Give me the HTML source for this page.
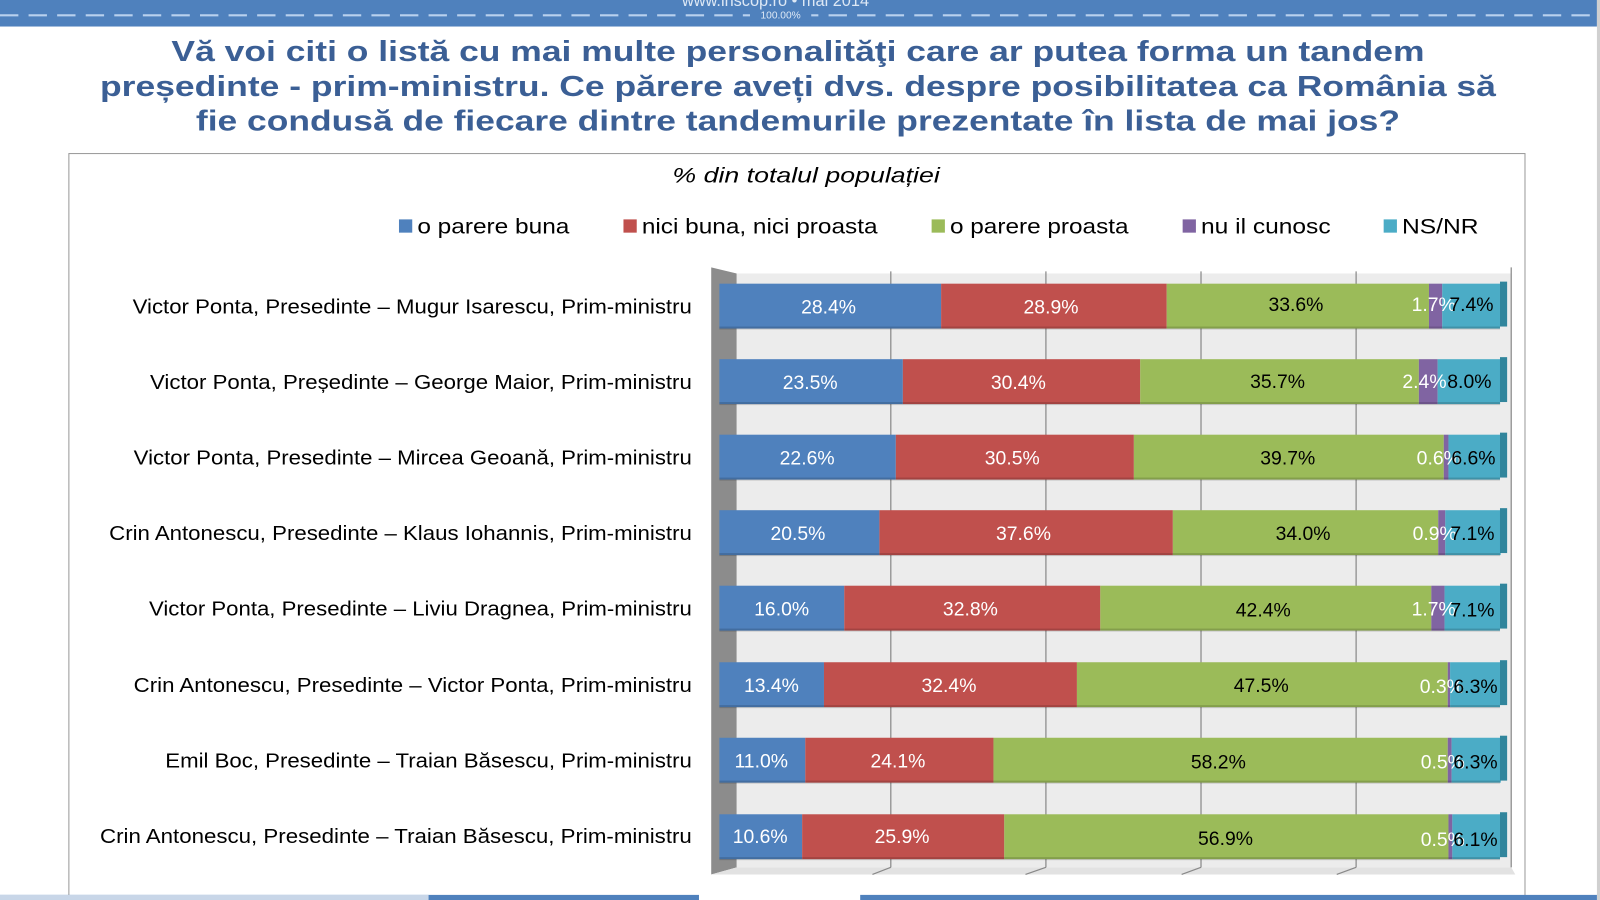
<!DOCTYPE html>
<html><head><meta charset="utf-8"><style>
html,body{margin:0;padding:0;background:#fff;width:1600px;height:900px;overflow:hidden}
svg{display:block;font-family:"Liberation Sans",Arial,sans-serif}
</style></head><body>
<svg width="1600" height="900" viewBox="0 0 1600 900">
<rect x="0" y="0" width="1600" height="900" fill="#fff"/>
<g transform="scale(1.0204)">
<!-- top bar -->
<rect x="0" y="0" width="1565" height="26" fill="#4f81bd"/>
<line x1="0" y1="15" x2="1565" y2="15" stroke="#b9d1ee" stroke-width="2" stroke-dasharray="18,10"/>
<rect x="735" y="9" width="60" height="12" fill="#4f81bd"/>
<text x="765" y="18" font-size="10" fill="#dde8f5" text-anchor="middle">100.00%</text>
<text x="760" y="6" font-size="16" fill="#dde8f5" text-anchor="middle">www.inscop.ro  •  mai 2014</text>
<rect x="1565" y="0" width="40" height="900" fill="#d0d0d0"/>
<!-- title -->
<g font-weight="bold" font-size="28" fill="#3b5f95" text-anchor="middle">
<text x="782" y="60" textLength="1228" lengthAdjust="spacingAndGlyphs">Vă voi citi o listă cu mai multe personalităţi care ar putea forma un tandem</text>
<text x="782" y="94" textLength="1368" lengthAdjust="spacingAndGlyphs">președinte - prim-ministru. Ce părere aveți dvs. despre posibilitatea ca România să</text>
<text x="782" y="128" textLength="1180" lengthAdjust="spacingAndGlyphs">fie condusă de fiecare dintre tandemurile prezentate în lista de mai jos?</text>
</g>
<!-- chart frame -->
<rect x="67.5" y="150.5" width="1427" height="730" fill="#fff" stroke="#999" stroke-width="1"/>
<text x="790" y="179" font-size="21" font-style="italic" fill="#000" text-anchor="middle" textLength="262" lengthAdjust="spacingAndGlyphs">% din totalul populației</text>
<!-- legend -->
<g font-size="21" fill="#000">
<rect x="391" y="215" width="13" height="13" fill="#4f81bd"/><text x="409" y="229" textLength="149" lengthAdjust="spacingAndGlyphs">o parere buna</text>
<rect x="611" y="215" width="13" height="13" fill="#c0504d"/><text x="629" y="229" textLength="231" lengthAdjust="spacingAndGlyphs">nici buna, nici proasta</text>
<rect x="913" y="215" width="13" height="13" fill="#9bbb59"/><text x="931" y="229" textLength="175" lengthAdjust="spacingAndGlyphs">o parere proasta</text>
<rect x="1159" y="215" width="13" height="13" fill="#8064a2"/><text x="1177" y="229" textLength="127" lengthAdjust="spacingAndGlyphs">nu il cunosc</text>
<rect x="1356" y="215" width="13" height="13" fill="#4bacc6"/><text x="1374" y="229" textLength="75" lengthAdjust="spacingAndGlyphs">NS/NR</text>
</g>
<!-- back wall -->
<polygon points="697,262 722,268 722,850 697,857" fill="#8c8c8c"/>
<rect x="722" y="268" width="759" height="582" fill="#ececec"/>
<polygon points="697,857 722,850 1481,850 1485,857" fill="#e2e2e2"/>
<g stroke="#888" stroke-width="1.2">
<line x1="873" y1="266" x2="873" y2="850"/><line x1="1025" y1="266" x2="1025" y2="850"/>
<line x1="1177" y1="266" x2="1177" y2="850"/><line x1="1329" y1="266" x2="1329" y2="850"/>
<line x1="1481" y1="262" x2="1481" y2="850"/>
<line x1="873" y1="850" x2="855" y2="857"/><line x1="1025" y1="850" x2="1005" y2="857"/>
<line x1="1177" y1="850" x2="1158" y2="857"/><line x1="1329" y1="850" x2="1310" y2="857"/>
</g>
<!-- category labels -->
<g font-size="20" fill="#000" text-anchor="end">
<text x="678" y="307" textLength="548" lengthAdjust="spacingAndGlyphs">Victor Ponta, Presedinte – Mugur Isarescu, Prim-ministru</text>
<text x="678" y="381" textLength="531" lengthAdjust="spacingAndGlyphs">Victor Ponta, Președinte – George Maior, Prim-ministru</text>
<text x="678" y="455" textLength="547" lengthAdjust="spacingAndGlyphs">Victor Ponta, Presedinte – Mircea Geoană, Prim-ministru</text>
<text x="678" y="529" textLength="571" lengthAdjust="spacingAndGlyphs">Crin Antonescu, Presedinte – Klaus Iohannis, Prim-ministru</text>
<text x="678" y="603" textLength="532" lengthAdjust="spacingAndGlyphs">Victor Ponta, Presedinte – Liviu Dragnea, Prim-ministru</text>
<text x="678" y="678" textLength="547" lengthAdjust="spacingAndGlyphs">Crin Antonescu, Presedinte – Victor Ponta, Prim-ministru</text>
<text x="678" y="752" textLength="516" lengthAdjust="spacingAndGlyphs">Emil Boc, Presedinte – Traian Băsescu, Prim-ministru</text>
<text x="678" y="826" textLength="580" lengthAdjust="spacingAndGlyphs">Crin Antonescu, Presedinte – Traian Băsescu, Prim-ministru</text>
</g>
<!-- bars -->
<g>
<rect x="705" y="278" width="217.3" height="44" fill="#4f81bd"/><rect x="922.3" y="278" width="221.1" height="44" fill="#c0504d"/><rect x="1143.4" y="278" width="257" height="44" fill="#9bbb59"/><rect x="1400.4" y="278" width="13" height="44" fill="#8064a2"/><rect x="1413.4" y="278" width="56.6" height="44" fill="#4bacc6"/><rect x="1470" y="276" width="7" height="44" fill="#31859c"/>
<rect x="705" y="352" width="179.8" height="44" fill="#4f81bd"/><rect x="884.8" y="352" width="232.6" height="44" fill="#c0504d"/><rect x="1117.4" y="352" width="273.1" height="44" fill="#9bbb59"/><rect x="1390.5" y="352" width="18.4" height="44" fill="#8064a2"/><rect x="1408.9" y="352" width="61.2" height="44" fill="#4bacc6"/><rect x="1470" y="350" width="7" height="44" fill="#31859c"/>
<rect x="705" y="426" width="172.9" height="44" fill="#4f81bd"/><rect x="877.9" y="426" width="233.3" height="44" fill="#c0504d"/><rect x="1111.2" y="426" width="303.7" height="44" fill="#9bbb59"/><rect x="1414.9" y="426" width="4.6" height="44" fill="#8064a2"/><rect x="1419.5" y="426" width="50.5" height="44" fill="#4bacc6"/><rect x="1470" y="424" width="7" height="44" fill="#31859c"/>
<rect x="705" y="500" width="156.8" height="44" fill="#4f81bd"/><rect x="861.8" y="500" width="287.6" height="44" fill="#c0504d"/><rect x="1149.4" y="500" width="260.1" height="44" fill="#9bbb59"/><rect x="1409.5" y="500" width="6.9" height="44" fill="#8064a2"/><rect x="1416.4" y="500" width="54.3" height="44" fill="#4bacc6"/><rect x="1470" y="498" width="7" height="44" fill="#31859c"/>
<rect x="705" y="574" width="122.4" height="44" fill="#4f81bd"/><rect x="827.4" y="574" width="250.9" height="44" fill="#c0504d"/><rect x="1078.3" y="574" width="324.4" height="44" fill="#9bbb59"/><rect x="1402.7" y="574" width="13" height="44" fill="#8064a2"/><rect x="1415.7" y="574" width="54.3" height="44" fill="#4bacc6"/><rect x="1470" y="572" width="7" height="44" fill="#31859c"/>
<rect x="705" y="649" width="102.5" height="44" fill="#4f81bd"/><rect x="807.5" y="649" width="247.9" height="44" fill="#c0504d"/><rect x="1055.4" y="649" width="363.4" height="44" fill="#9bbb59"/><rect x="1418.8" y="649" width="2.3" height="44" fill="#8064a2"/><rect x="1421.1" y="649" width="48.9" height="44" fill="#4bacc6"/><rect x="1470" y="647" width="7" height="44" fill="#31859c"/>
<rect x="705" y="723" width="84.2" height="44" fill="#4f81bd"/><rect x="789.2" y="723" width="184.4" height="44" fill="#c0504d"/><rect x="973.6" y="723" width="445.2" height="44" fill="#9bbb59"/><rect x="1418.8" y="723" width="3.8" height="44" fill="#8064a2"/><rect x="1422.6" y="723" width="48.2" height="44" fill="#4bacc6"/><rect x="1470" y="721" width="7" height="44" fill="#31859c"/>
<rect x="705" y="798" width="81.1" height="44" fill="#4f81bd"/><rect x="786.1" y="798" width="198.1" height="44" fill="#c0504d"/><rect x="984.2" y="798" width="435.3" height="44" fill="#9bbb59"/><rect x="1419.5" y="798" width="3.8" height="44" fill="#8064a2"/><rect x="1423.3" y="798" width="46.7" height="44" fill="#4bacc6"/><rect x="1470" y="796" width="7" height="44" fill="#31859c"/>
</g>
<g fill="#000" opacity="0.15">
<rect x="705" y="320" width="765" height="3"/><rect x="705" y="394" width="765" height="3"/><rect x="705" y="468" width="765" height="3"/><rect x="705" y="542" width="765" height="3"/><rect x="705" y="616" width="765" height="3"/><rect x="705" y="691" width="765" height="3"/><rect x="705" y="765" width="765" height="3"/><rect x="705" y="840" width="765" height="3"/>
</g>
<!-- value labels -->
<g font-size="19" text-anchor="middle">
<g fill="#fff">
<text x="812" y="307">28.4%</text><text x="1030" y="307">28.9%</text>
<text x="794" y="381">23.5%</text><text x="998" y="381">30.4%</text>
<text x="791" y="455">22.6%</text><text x="992" y="455">30.5%</text>
<text x="782" y="529">20.5%</text><text x="1003" y="529">37.6%</text>
<text x="766" y="603">16.0%</text><text x="951" y="603">32.8%</text>
<text x="756" y="678">13.4%</text><text x="930" y="678">32.4%</text>
<text x="746" y="752">11.0%</text><text x="880" y="752">24.1%</text>
<text x="745" y="826">10.6%</text><text x="884" y="826">25.9%</text>
<text x="1405" y="305">1.7%</text><text x="1396" y="380">2.4%</text><text x="1410" y="455">0.6%</text><text x="1406" y="529">0.9%</text><text x="1405" y="603">1.7%</text><text x="1413" y="679">0.3%</text><text x="1414" y="753">0.5%</text><text x="1414" y="829">0.5%</text>
</g>
<g fill="#000">
<text x="1270" y="305">33.6%</text><text x="1252" y="380">35.7%</text><text x="1262" y="455">39.7%</text><text x="1277" y="529">34.0%</text><text x="1238" y="604">42.4%</text><text x="1236" y="678">47.5%</text><text x="1194" y="753">58.2%</text><text x="1201" y="828">56.9%</text>
<text x="1442" y="305">7.4%</text><text x="1440" y="380">8.0%</text><text x="1444" y="455">6.6%</text><text x="1443" y="529">7.1%</text><text x="1443" y="604">7.1%</text><text x="1446" y="679">6.3%</text><text x="1446" y="753">6.3%</text><text x="1446" y="829">6.1%</text>
</g>
</g>
<!-- bottom bar -->
<rect x="0" y="877" width="1565" height="23" fill="#4f81bd"/>
<rect x="0" y="877" width="420" height="5" fill="#c8d6e8"/>
<rect x="685" y="876" width="158" height="24" fill="#fff"/>
</g>
</svg>
</body></html>
